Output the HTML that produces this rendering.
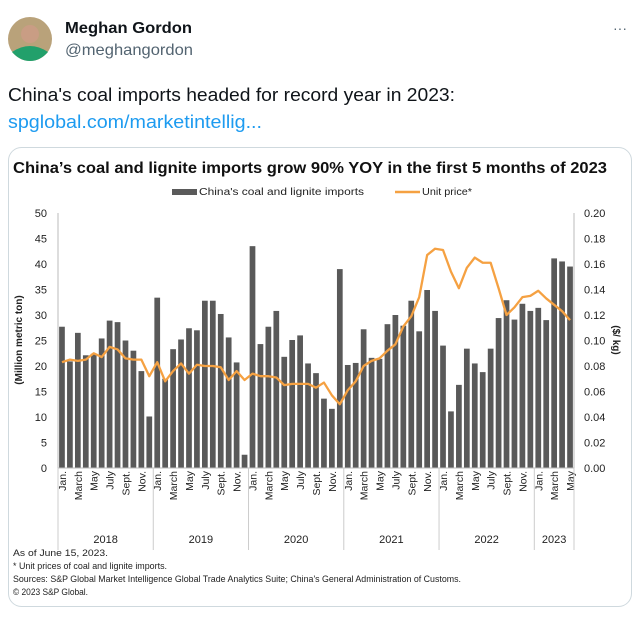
<!DOCTYPE html>
<html><head><meta charset="utf-8"><style>
body{margin:0;background:#fff;width:641px;height:617px;overflow:hidden;font-family:"Liberation Sans",sans-serif}
</style></head><body>
<svg width="641" height="617" xmlns="http://www.w3.org/2000/svg" font-family="Liberation Sans, sans-serif">
<g>
<circle cx="30" cy="39" r="22" fill="#b9a27a"/>
<circle cx="30" cy="34" r="9" fill="#c99d84"/>
<path d="M12 52 Q30 40 48 52 Q40 61 30 61 Q20 61 12 52Z" fill="#22a06b"/>
</g>
<text x="65" y="33" font-size="16" font-weight="bold" fill="#0f1419" textLength="127" lengthAdjust="spacingAndGlyphs">Meghan Gordon</text>
<text x="65" y="55" font-size="16" fill="#536471" textLength="128" lengthAdjust="spacingAndGlyphs">@meghangordon</text>
<text x="620" y="33" font-size="14" fill="#536471" text-anchor="middle">···</text>
<text x="8" y="101" font-size="18.5" fill="#0f1419" textLength="447" lengthAdjust="spacingAndGlyphs">China's coal imports headed for record year in 2023:</text>
<text x="8" y="128" font-size="18.5" fill="#1d9bf0" textLength="254" lengthAdjust="spacingAndGlyphs">spglobal.com/marketintellig...</text>
<rect x="8.5" y="147.5" width="623" height="459" rx="13" fill="#fff" stroke="#cfd9de"/>
<text x="13" y="173" font-size="16" font-weight="bold" fill="#111" textLength="594" lengthAdjust="spacingAndGlyphs">China’s coal and lignite imports grow 90% YOY in the first 5 months of 2023</text>
<g>
<rect x="172" y="189" width="25" height="6" fill="#5a5a5a"/>
<text x="199" y="195" font-size="10" fill="#222" textLength="165" lengthAdjust="spacingAndGlyphs">China's coal and lignite imports</text>
<line x1="395" y1="192" x2="420" y2="192" stroke="#f5a142" stroke-width="2.5"/>
<text x="422" y="195" font-size="10" fill="#222" textLength="50" lengthAdjust="spacingAndGlyphs">Unit price*</text>
</g>
<g id="chart"></g>
<g font-size="9.5" fill="#222">
<text x="13" y="556" textLength="95" lengthAdjust="spacingAndGlyphs">As of June 15, 2023.</text>
<text x="13" y="569" textLength="154" lengthAdjust="spacingAndGlyphs">* Unit prices of coal and lignite imports.</text>
<text x="13" y="582" textLength="448" lengthAdjust="spacingAndGlyphs">Sources: S&amp;P Global Market Intelligence Global Trade Analytics Suite; China's General Administration of Customs.</text>
<text x="13" y="595" textLength="75" lengthAdjust="spacingAndGlyphs">© 2023 S&amp;P Global.</text>
</g>
</svg>
<script>
const years=["2018","2019","2020","2021","2022","2023"];
const monthLabels=["Jan.","March","May","July","Sept.","Nov."];
const imports=[27.7,20.9,26.5,22.1,22.4,25.4,28.9,28.6,25,23,19,10.1,
33.4,17.5,23.3,25.2,27.4,27,32.8,32.8,30.2,25.6,20.7,2.6,
43.5,24.3,27.7,30.8,21.8,25.1,26,20.5,18.6,13.6,11.6,39,
20.2,20.6,27.2,21.6,21.4,28.2,30,27.9,32.8,26.8,34.9,30.8,
24,11.1,16.3,23.4,20.5,18.8,23.4,29.4,32.9,29.1,32.2,30.8,
31.4,29,41.1,40.5,39.5];
const price=[0.083,0.085,0.084,0.085,0.09,0.087,0.095,0.093,0.086,0.085,0.085,0.072,
0.083,0.068,0.076,0.082,0.074,0.081,0.080,0.080,0.079,0.069,0.076,0.069,
0.074,0.072,0.072,0.071,0.065,0.066,0.066,0.066,0.063,0.067,0.057,0.050,
0.061,0.068,0.080,0.084,0.086,0.092,0.097,0.111,0.119,0.134,0.167,0.172,
0.171,0.154,0.141,0.157,0.165,0.161,0.161,0.141,0.120,0.126,0.134,0.135,
0.139,0.133,0.128,0.123,0.116];
const leftTicks=[0,5,10,15,20,25,30,35,40,45,50];
const rightTicks=[0,0.02,0.04,0.06,0.08,0.10,0.12,0.14,0.16,0.18,0.20];
const NS="http://www.w3.org/2000/svg";
const g=document.getElementById('chart');
const X0=58,X1=574,Y0=468,Y1=213;
const n=imports.length,step=(X1-X0)/n;
const xc=i=>X0+step*(i+0.5);
const yL=v=>Y0-(v/50)*(Y0-Y1);
const yR=v=>Y0-(v/0.2)*(Y0-Y1);
function mk(t,a,txt){const e=document.createElementNS(NS,t);for(const k in a)e.setAttribute(k,a[k]);if(txt!==undefined)e.textContent=txt;g.appendChild(e);return e;}
leftTicks.forEach(v=>{const e=mk('text',{x:47,y:yL(v)+4,'font-size':11,fill:'#222','text-anchor':'end'},v);

});
rightTicks.forEach(v=>{const e=mk('text',{x:584,y:yR(v)+4,'font-size':11,fill:'#222'},v.toFixed(2));

});
let t=mk('text',{x:0,y:0,'font-size':10,'font-weight':'bold',fill:'#222','text-anchor':'middle',transform:'translate(22,340) rotate(-90)'},'(Million metric ton)');


t=mk('text',{x:0,y:0,'font-size':10,'font-weight':'bold',fill:'#222','text-anchor':'middle',transform:'translate(613,340) rotate(90)'},'($/ kg)');


let a=mk('line',{x1:X0,y1:Y1,x2:X0,y2:Y0,stroke:'#bbb'});


a=mk('line',{x1:X1,y1:Y1,x2:X1,y2:Y0,stroke:'#bbb'});


imports.forEach((v,i)=>{const b=mk('rect',{x:xc(i)-step*0.36,y:yL(v),width:step*0.72,height:Y0-yL(v),fill:'#595959'});

});
a=mk('line',{x1:X0,y1:Y0,x2:X1,y2:Y0,stroke:'#bbb'});


const pl=mk('polyline',{points:price.map((v,i)=>xc(i)+','+yR(v)).join(' '),fill:'none',stroke:'#f5a142','stroke-width':2.3,'stroke-linejoin':'round'});


for(let i=0;i<n;i+=2){const lab=monthLabels[(i%12)/2];
const e=mk('text',{x:0,y:0,'font-size':10.5,fill:'#222','text-anchor':'end',transform:`translate(${xc(i)+4},471) rotate(-90)`},lab);

}
years.forEach((y,k)=>{const s=k*12,e2=Math.min(n,s+12);
const sep=mk('line',{x1:X0+step*s,y1:Y0,x2:X0+step*s,y2:550,stroke:'#ccc'});


const e=mk('text',{x:X0+step*(s+e2)/2,y:543,'font-size':11,fill:'#222','text-anchor':'middle'},y);

});
const last=mk('line',{x1:X1,y1:Y0,x2:X1,y2:550,stroke:'#ccc'});


</script>
</body></html>
